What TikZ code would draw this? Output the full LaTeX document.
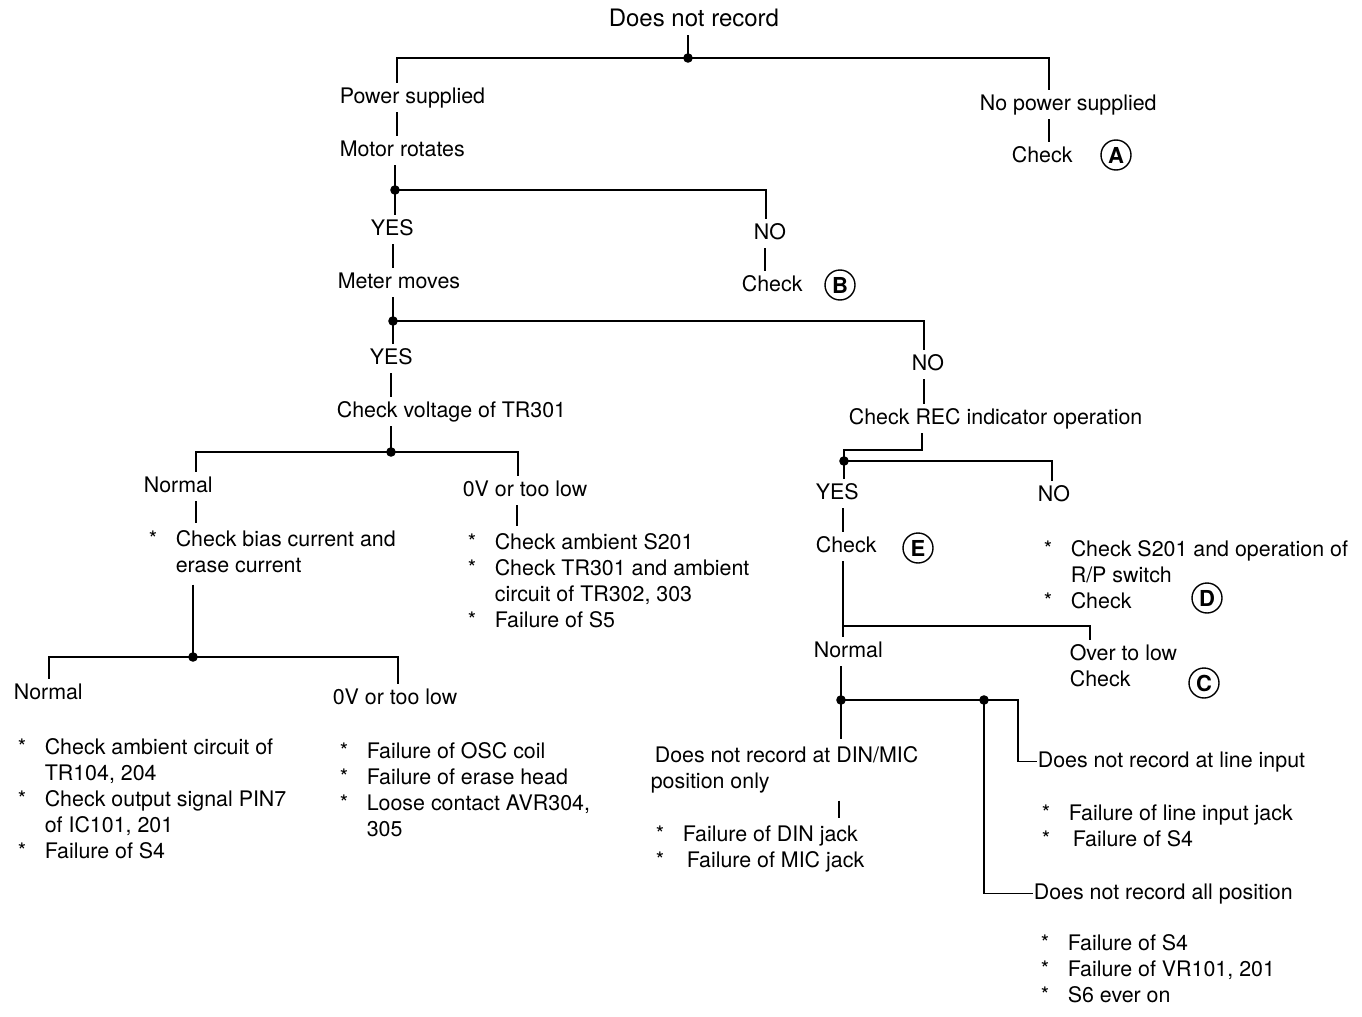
\documentclass[tikz,border=0pt]{standalone}
\usepackage{fontspec}
\setmainfont{TeX Gyre Heros}

\begin{document}
\begin{tikzpicture}[x=0.5pt, y=-0.5pt, line width=0.8pt,
                    font=\fontsize{10.7}{13}\selectfont,
                    txt/.style={anchor=base west, inner xsep=0pt, inner ysep=2pt,
                                text height=7.8pt, text depth=2.2pt},
                    notes/.style={anchor=base west, inner xsep=0pt, inner ysep=2pt},
                    ring/.style={circle, draw, line width=0.7pt, minimum size=15pt, inner sep=0pt,
                                 font=\fontsize{11}{13}\selectfont\bfseries}]
    \useasboundingbox[fill=white] (0,0) rectangle (1362,1017);

    % upper part
    \node (fault)    [txt, font=\fontsize{12}{14}\selectfont] at (608,26) {Does not record};
    \node (power)    [txt] at (339,103) {Power supplied};
    \node (motor)    [txt] at (339,156) {Motor rotates};
    \node (nopower)  [txt] at (979,110) {No power supplied};
    \node (checka)   [txt] at (1011,162) {Check};
    \node (refa)     [ring] at (1116,155) {A};
    \node (yesmotor) [txt] at (370,235) {YES};
    \node (nomotor)  [txt] at (753,239) {NO};
    \node (meter)    [txt] at (337,288) {Meter moves};
    \node (checkb)   [txt] at (741,291) {Check};
    \node (refb)     [ring] at (840,285) {B};
    \node (yesmeter) [txt] at (369,364) {YES};
    \node (nometer)  [txt] at (911,370) {NO};
    \node (voltage)  [txt] at (336,417) {Check voltage of TR301};
    \node (recind)   [txt] at (848,424) {Check REC indicator operation};

    % voltage branch
    \node (normal)     [txt] at (143,492) {Normal};
    \node (toolow)     [txt] at (462,496) {0V or too low};
    \node (biascheck)  [notes] at (148,546) {\begin{tabular}[t]{@{}p{13.5pt}@{}l@{}}
        {*} & Check bias current and\\ & erase current\end{tabular}};
    \node (lowcheck)   [notes] at (467,549) {\begin{tabular}[t]{@{}p{13.5pt}@{}l@{}}
        {*} & Check ambient S201\\ {*} & Check TR301 and ambient\\
            & circuit of TR302, 303\\ {*} & Failure of S5\end{tabular}};
    \node (normalbias) [txt] at (13,699) {Normal};
    \node (lowbias)    [txt] at (332,704) {0V or too low};
    \node (ambient)    [notes] at (17,754) {\begin{tabular}[t]{@{}p{13.5pt}@{}l@{}}
        {*} & Check ambient circuit of\\ & TR104, 204\\ {*} & Check output signal PIN7\\
            & of IC101, 201\\ {*} & Failure of S4\end{tabular}};
    \node (osc)        [notes] at (339,758) {\begin{tabular}[t]{@{}p{13.5pt}@{}l@{}}
        {*} & Failure of OSC coil\\ {*} & Failure of erase head\\
        {*} & Loose contact AVR304,\\ & 305\end{tabular}};

    % REC branch
    \node (yesrec)      [txt] at (815,499) {YES};
    \node (norec)       [txt] at (1037,501) {NO};
    \node (checke)      [txt] at (815,552) {Check};
    \node (refe)        [ring] at (918,548) {E};
    \node (switchcheck) [notes] at (1043,556) {\begin{tabular}[t]{@{}p{13.5pt}@{}l@{}}
        {*} & Check S201 and operation of\\ & R/P switch\\ {*} & Check\end{tabular}};
    \node (refd)        [ring] at (1207,598) {D};
    \node (normalrec)   [txt] at (813,657) {Normal};
    \node (overlow)     [txt] at (1069,660) {Over to low};
    \node (checkc)      [txt] at (1069,686) {Check};
    \node (refc)        [ring] at (1204,683) {C};
    \node (dinmic)      [notes] at (650,762) {\begin{tabular}[t]{@{}l@{}}
        \hspace{2pt}Does not record at DIN/MIC\\position only\end{tabular}};
    \node (dinfail)     [notes] at (655,841) {\begin{tabular}[t]{@{}p{13.5pt}@{}l@{}}
        {*} & Failure of DIN jack\\ {*} & \hspace{2pt}Failure of MIC jack\end{tabular}};
    \node (lineinput)   [txt] at (1037,767) {Does not record at line input};
    \node (linefail)    [notes] at (1041,820) {\begin{tabular}[t]{@{}p{13.5pt}@{}l@{}}
        {*} & Failure of line input jack\\ {*} & \hspace{2pt}Failure of S4\end{tabular}};
    \node (allpos)      [txt] at (1033,899) {Does not record all position};
    \node (allfail)     [notes] at (1040,950) {\begin{tabular}[t]{@{}p{13.5pt}@{}l@{}}
        {*} & Failure of S4\\ {*} & Failure of VR101, 201\\ {*} & S6 ever on\end{tabular}};

    % junctions
    \coordinate (j1) at (688,58);
    \coordinate (j2) at (395,190);
    \coordinate (j3) at (393,321);
    \coordinate (j4) at (391,452);
    \coordinate (j5) at (844,461);
    \coordinate (j6) at (843,626);
    \coordinate (j7) at (841,700);
    \coordinate (j8) at (984,700);
    \coordinate (j9) at (193,657);

    % connectors
    \draw ([xshift=40pt]fault.south west) -- (j1);
    \draw ([xshift=29pt]power.north west) |- (j1) -| ([xshift=35pt]nopower.north west);
    \draw ([xshift=29pt]power.south west) -- ([xshift=29pt]motor.north west);
    \draw ([xshift=35pt]nopower.south west) -- ([xshift=19pt]checka.north west);
    \draw ([xshift=28pt]motor.south west) -- (j2);
    \draw ([xshift=12.5pt]yesmotor.north west) |- (j2) -| ([xshift=6.5pt]nomotor.north west);
    \draw ([xshift=11.5pt]yesmotor.south west) -- ([xshift=28pt]meter.north west);
    \draw ([xshift=6pt]nomotor.south west) -- ([xshift=12pt]checkb.north west);
    \draw ([xshift=28pt]meter.south west) -- (j3);
    \draw ([xshift=12pt]yesmeter.north west) |- (j3) -| ([xshift=6.5pt]nometer.north west);
    \draw ([xshift=11pt]yesmeter.south west) -- ([xshift=27.5pt]voltage.north west);
    \draw ([xshift=6.5pt]nometer.south west) -- ([xshift=38pt]recind.north west);
    \draw ([xshift=27.5pt]voltage.south west) -- (j4);
    \draw ([xshift=26.5pt]normal.north west) |- (j4) -| ([xshift=28pt]toolow.north west);
    \draw ([xshift=26.5pt]normal.south west) -- ([xshift=24pt]biascheck.north west);
    \draw ([xshift=27.5pt]toolow.south west) -- ([xshift=25pt]lowcheck.north west);
    \draw ([xshift=22.5pt]biascheck.south west) -- (j9);
    \draw ([xshift=18pt]normalbias.north west) |- (j9) -| ([xshift=33pt]lowbias.north west);
    \draw ([xshift=37pt]recind.south west) |- ([yshift=5.5pt]j5) -- (j5);
    \draw ([xshift=14.5pt]yesrec.north west) |- (j5) -| ([xshift=7.5pt]norec.north west);
    \draw ([xshift=14pt]yesrec.south west) -- ([xshift=14pt]checke.north west);
    \draw ([xshift=14pt]checke.south west) -- (j6) -- ([xshift=15pt]normalrec.north west);
    \draw (j6) -| ([xshift=10.5pt]overlow.north west);
    \draw ([xshift=14pt]normalrec.south west) -- (j7) -- ([xshift=95.5pt]dinmic.north west);
    \draw ([xshift=94.5pt]dinmic.south west) -- ([xshift=92pt]dinfail.north west);
    \draw (j7) -| ([xshift=-9.5pt]lineinput.west) -- (lineinput.west);
    \draw (j8) |- (allpos.west);

    \foreach \j in {j1,j2,j3,j4,j5,j7,j8,j9}
        \fill (\j) circle (2.4pt);
\end{tikzpicture}
\end{document}
